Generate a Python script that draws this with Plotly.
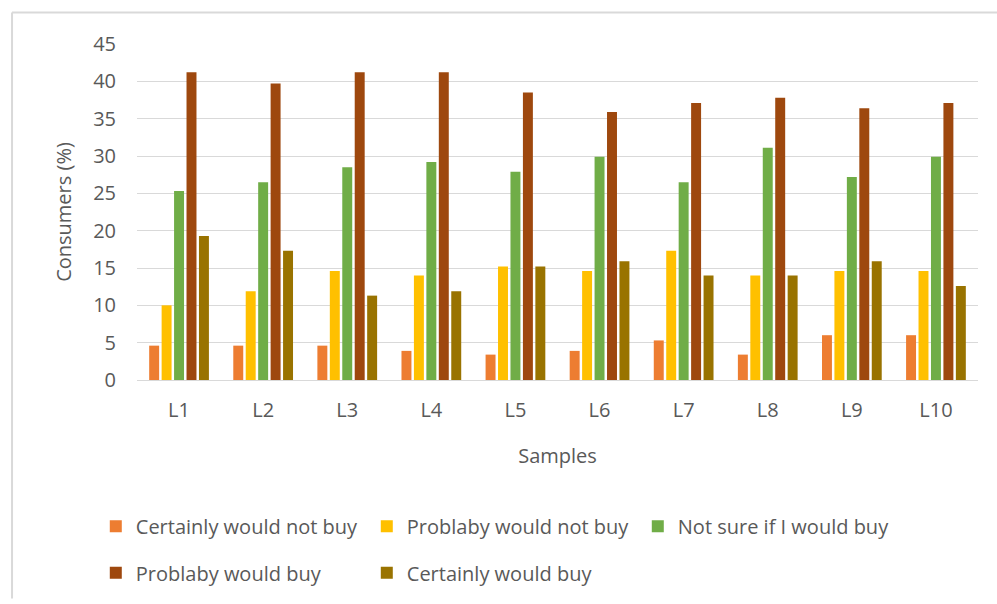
import plotly.graph_objects as go

samples = ["L1", "L2", "L3", "L4", "L5", "L6", "L7", "L8", "L9", "L10"]
certainly_not = [4.6, 4.6, 4.6, 3.9, 3.4, 3.9, 5.3, 3.4, 6.0, 6.0]
probably_not = [10.0, 11.9, 14.6, 14.0, 15.2, 14.6, 17.3, 14.0, 14.6, 14.6]
not_sure = [25.3, 26.5, 28.5, 29.2, 27.9, 29.9, 26.5, 31.1, 27.2, 29.9]
probably_buy = [41.2, 39.7, 41.2, 41.2, 38.5, 35.9, 37.1, 37.8, 36.4, 37.1]
certainly_buy = [19.3, 17.3, 11.3, 11.9, 15.2, 15.9, 14.0, 14.0, 15.9, 12.6]

series = [
    ("Certainly would not buy", certainly_not, "#ED7D31", "legend"),
    ("Problaby would not buy", probably_not, "#FFC000", "legend"),
    ("Not sure if I would buy", not_sure, "#70AD47", "legend"),
    ("Problaby would buy", probably_buy, "#9E480E", "legend2"),
    ("Certainly would buy", certainly_buy, "#997300", "legend2"),
]

FONT = "'Open Sans', sans-serif"
GRAY = "#595959"

fig = go.Figure()
for name, vals, color, leg in series:
    fig.add_trace(go.Bar(x=samples, y=vals, name=name, marker_color=color,
                         marker_line_width=0, legend=leg))

legend_common = dict(
    orientation="h", xanchor="left", yanchor="middle",
    font=dict(family=FONT, size=20, color=GRAY), entrywidth=226, entrywidthmode="pixels",
    itemwidth=30, traceorder="normal", bgcolor="rgba(0,0,0,0)",
)

fig.update_layout(
    width=997, height=604,
    barmode="group", bargap=0.26, bargroupgap=0.2,
    plot_bgcolor="white", paper_bgcolor="white",
    margin=dict(l=137, r=19, t=44, b=220),
    font=dict(family=FONT, color=GRAY, size=20),
    xaxis=dict(
        title=dict(text="Samples", font=dict(size=20, color=GRAY), standoff=26),
        tickfont=dict(size=20, color=GRAY), showgrid=False,
        showline=True, linecolor="#d9d9d9", linewidth=1, ticks="", ticklabelstandoff=12,
    ),
    yaxis=dict(
        title=dict(text="Consumers (%)", font=dict(size=20, color=GRAY), standoff=16),
        range=[0, 45], dtick=5, tickfont=dict(size=20, color=GRAY),
        showgrid=True, gridcolor="#d9d9d9", gridwidth=1, zeroline=False, ticks="",
        ticklabelstandoff=20,
    ),
    legend=dict(x=-0.049, y=-0.435, **legend_common),
    legend2=dict(x=-0.049, y=-0.574, **legend_common),
    shapes=[
        dict(type="line", xref="paper", yref="paper", x0=-0.1486, x1=1.03, y0=1.094, y1=1.094,
             line=dict(color="#d9d9d9", width=2)),
        dict(type="line", xref="paper", yref="paper", x0=-0.1486, x1=-0.1486, y0=1.094, y1=-0.65,
             line=dict(color="#d9d9d9", width=2)),
    ],
)

fig.write_html("out.html", config={"displayModeBar": False},
               post_script="document.body.style.margin='0';document.body.style.overflow='hidden';")
